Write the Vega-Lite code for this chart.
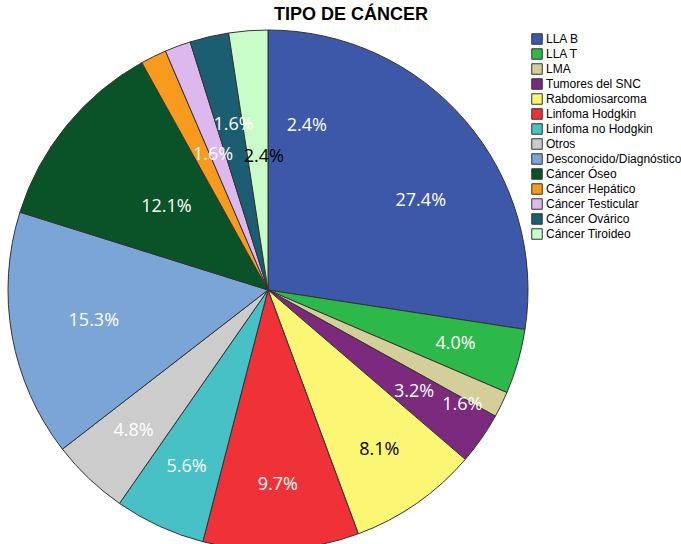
{
  "$schema": "https://vega.github.io/schema/vega-lite/v6.json",
  "width": 520,
  "height": 520,
  "autosize": "none",
  "padding": {"left": 8, "top": 30, "right": 153, "bottom": 0},
  "title": {"text": "TIPO DE CÁNCER", "font": "Liberation Sans", "fontSize": 18, "fontWeight": "bold", "dx": 83, "offset": 4, "color": "#000000"},
  "data": {"values": [
    {"idx": 1, "cat": "LLA B", "n": 34, "label": "27.4%"},
    {"idx": 2, "cat": "LLA T", "n": 5, "label": "4.0%"},
    {"idx": 3, "cat": "LMA", "n": 2, "label": "1.6%"},
    {"idx": 4, "cat": "Tumores del SNC", "n": 4, "label": "3.2%"},
    {"idx": 5, "cat": "Rabdomiosarcoma", "n": 10, "label": "8.1%"},
    {"idx": 6, "cat": "Linfoma Hodgkin", "n": 12, "label": "9.7%"},
    {"idx": 7, "cat": "Linfoma no Hodgkin", "n": 7, "label": "5.6%"},
    {"idx": 8, "cat": "Otros", "n": 6, "label": "4.8%"},
    {"idx": 9, "cat": "Desconocido/Diagnóstico", "n": 19, "label": "15.3%"},
    {"idx": 10, "cat": "Cáncer Óseo", "n": 15, "label": "12.1%"},
    {"idx": 11, "cat": "Cáncer Hepático", "n": 2, "label": "1.6%"},
    {"idx": 12, "cat": "Cáncer Testicular", "n": 2, "label": "1.6%"},
    {"idx": 13, "cat": "Cáncer Ovárico", "n": 3, "label": "2.4%"},
    {"idx": 14, "cat": "Cáncer Tiroideo", "n": 3, "label": "2.4%"}
  ]},
  "encoding": {
    "theta": {"field": "n", "type": "quantitative", "stack": true},
    "order": {"field": "idx", "type": "quantitative"}
  },
  "layer": [
    {
      "mark": {"type": "arc", "stroke": "#333333", "strokeWidth": 1},
      "encoding": {
        "color": {
          "field": "cat", "type": "nominal",
          "scale": {
            "domain": ["LLA B", "LLA T", "LMA", "Tumores del SNC", "Rabdomiosarcoma", "Linfoma Hodgkin", "Linfoma no Hodgkin", "Otros", "Desconocido/Diagnóstico", "Cáncer Óseo", "Cáncer Hepático", "Cáncer Testicular", "Cáncer Ovárico", "Cáncer Tiroideo"],
            "range": ["#3e58a9", "#2db84a", "#d4cf9a", "#7b2a7d", "#fbf674", "#ee3237", "#47c0c6", "#cccccc", "#7aa5d6", "#0a5228", "#f79a1d", "#dcb8ef", "#1b5e72", "#c8fcc8"]
          },
          "legend": {
            "title": null,
            "orient": "none",
            "legendX": 523,
            "legendY": 3,
            "symbolType": "square",
            "symbolSize": 110,
            "symbolStrokeColor": "#333333",
            "symbolStrokeWidth": 1,
            "labelFont": "Liberation Sans",
            "labelFontSize": 12,
            "labelColor": "#000000",
            "labelOffset": 3,
            "rowPadding": -1,
            "labelLimit": 200
          }
        }
      }
    },
    {
      "mark": {"type": "text", "radius": 195, "fontSize": 18, "font": "Open Sans"},
      "encoding": {
        "text": {"condition": {"test": "indexof([2,5,6,7,8], datum.idx) >= 0", "field": "label"}, "value": ""},
        "color": {
          "condition": {"test": "datum.cat === 'Rabdomiosarcoma'", "value": "#000000"},
          "value": "#ffffff"
        }
      }
    },
    {
      "mark": {"type": "text", "radius": 177, "thetaOffset": 0.18, "fontSize": 18, "font": "Open Sans", "color": "#ffffff"},
      "encoding": {"text": {"condition": {"test": "datum.idx == 1", "field": "label"}, "value": ""}}
    },
    {
      "mark": {"type": "text", "radius": 226, "thetaOffset": 0.08, "fontSize": 18, "font": "Open Sans", "color": "#ffffff"},
      "encoding": {"text": {"condition": {"test": "datum.idx == 3", "field": "label"}, "value": ""}}
    },
    {
      "mark": {"type": "text", "radius": 178, "fontSize": 18, "font": "Open Sans", "color": "#ffffff"},
      "encoding": {"text": {"condition": {"test": "datum.idx == 4", "field": "label"}, "value": ""}}
    },
    {
      "mark": {"type": "text", "radius": 177, "fontSize": 18, "font": "Open Sans", "color": "#ffffff"},
      "encoding": {"text": {"condition": {"test": "datum.idx == 9", "field": "label"}, "value": ""}}
    },
    {
      "mark": {"type": "text", "radius": 131, "fontSize": 18, "font": "Open Sans", "color": "#ffffff"},
      "encoding": {"text": {"condition": {"test": "datum.idx == 10", "field": "label"}, "value": ""}}
    },
    {
      "mark": {"type": "text", "radius": 146, "thetaOffset": 0.07, "fontSize": 18, "font": "Open Sans", "color": "#ffffff"},
      "encoding": {"text": {"condition": {"test": "datum.idx == 11", "field": "label"}, "value": ""}}
    },
    {
      "mark": {"type": "text", "radius": 169, "thetaOffset": 0.15, "fontSize": 18, "font": "Open Sans", "color": "#ffffff"},
      "encoding": {"text": {"condition": {"test": "datum.idx == 12", "field": "label"}, "value": ""}}
    },
    {
      "mark": {"type": "text", "radius": 169, "thetaOffset": 0.46, "fontSize": 18, "font": "Open Sans", "color": "#ffffff"},
      "encoding": {"text": {"condition": {"test": "datum.idx == 13", "field": "label"}, "value": ""}}
    },
    {
      "mark": {"type": "text", "radius": 133, "thetaOffset": 0.045, "fontSize": 18, "font": "Open Sans", "color": "#000000"},
      "encoding": {"text": {"condition": {"test": "datum.idx == 14", "field": "label"}, "value": ""}}
    }
  ],
  "config": {"view": {"stroke": null}}
}
